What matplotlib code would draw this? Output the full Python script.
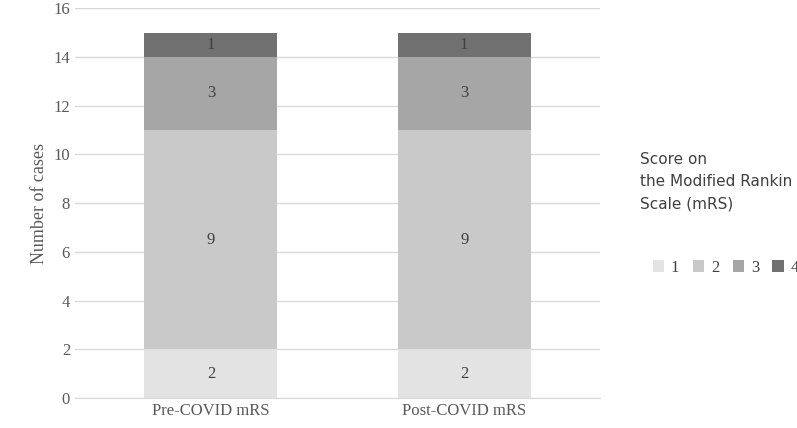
import matplotlib.pyplot as plt
import numpy as np

categories = ['Pre-COVID mRS', 'Post-COVID mRS']
scores = ['1', '2', '3', '4']
counts = {
    '1': [2, 2],
    '2': [9, 9],
    '3': [3, 3],
    '4': [1, 1],
}
colors = ['#e3e3e3', '#c9c9c9', '#a6a6a6', '#717171']

plt.rcParams['font.family'] = 'Liberation Serif'
fig = plt.figure(figsize=(7.97, 4.28), dpi=100)
ax = fig.add_axes([0.094, 0.07, 0.659, 0.911])

x = np.arange(len(categories))
bottom = np.zeros(len(categories))
handles = []
for s, c in zip(scores, colors):
    vals = np.array(counts[s])
    b = ax.bar(x, vals, 0.525, bottom=bottom, color=c, label=s, zorder=2)
    handles.append(b)
    for xi, v, bo in zip(x, vals, bottom):
        ax.text(xi, bo + v / 2, str(v), ha='center', va='center',
                fontsize=12, color='#404040')
    bottom += vals

ax.set_xlim(-0.537, 1.537)
ax.set_ylim(0, 16)
ax.set_yticks(range(0, 17, 2))
ax.set_xticks(x)
ax.set_xticklabels(categories)
ax.tick_params(length=0, labelsize=12, colors='#595959')
ax.grid(axis='y', color='#d9d9d9', linewidth=1, zorder=0)
for sp in ['top', 'right', 'left']:
    ax.spines[sp].set_visible(False)
ax.spines['bottom'].set_color('#d9d9d9')
ax.set_ylabel('Number of cases', fontsize=13, color='#595959')

fig.text(0.803, 0.575, 'Score on\nthe Modified Rankin\nScale (mRS)', fontsize=11,
         family='DejaVu Sans', color='#404040', va='center', linespacing=1.6)
fig.legend(handles=handles, loc='center left', bbox_to_anchor=(0.8, 0.375),
           ncol=4, frameon=False, fontsize=12, handlelength=0.7, handleheight=0.7,
           handletextpad=0.4, columnspacing=0.8, labelcolor='#404040')

fig.savefig('out.png', dpi=100)
